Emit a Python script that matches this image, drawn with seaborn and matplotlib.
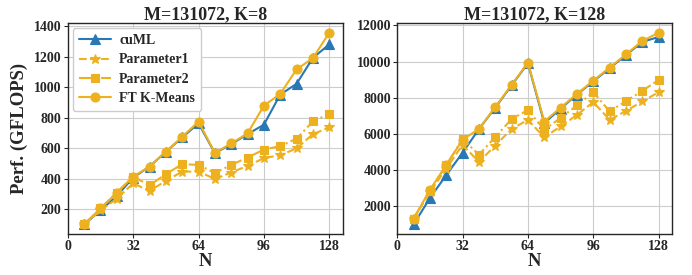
import numpy as np
import pandas as pd
import matplotlib
matplotlib.use('Agg')
import matplotlib.pyplot as plt
import seaborn as sns

# --- data ---
n_vals = [8, 16, 24, 32, 40, 48, 56, 64, 72, 80, 88, 96, 104, 112, 120, 128]

# M=131072, K=8
k8_cuml = [99, 191, 286, 407, 479, 576, 670, 763, 567, 626, 692, 754, 952, 1022, 1193, 1281]
k8_param1 = [99, 191, 268, 369, 319, 385, 446, 446, 398, 440, 484, 534, 554, 598, 692, 736]
k8_param2 = [99, 204, 308, 413, 356, 429, 495, 490, 437, 490, 538, 591, 613, 662, 776, 824]
k8_ftkm = [99, 204, 308, 413, 479, 576, 675, 774, 569, 631, 697, 879, 956, 1117, 1191, 1358]

# M=131072, K=128
k128_cuml = [1000, 2455, 3727, 4963, 6272, 7454, 8690, 9909, 6600, 7400, 8181, 8909, 9636, 10363, 11090, 11363]
k128_param1 = [1309, 2781, 4090, 5400, 4454, 5363, 6272, 6781, 5818, 6418, 7054, 7763, 6781, 7272, 7800, 8309]
k128_param2 = [1309, 2872, 4272, 5727, 4854, 5836, 6818, 7327, 6236, 6890, 7581, 8309, 7254, 7818, 8381, 9000]
k128_ftkm = [1309, 2909, 4272, 5690, 6272, 7490, 8709, 9945, 6690, 7454, 8218, 8945, 9672, 10400, 11145, 11600]

titles = ['M=131072, K=8', 'M=131072, K=128']
series_names = ['cuML', 'Parameter1', 'Parameter2', 'FT K-Means']

panels = [
    [k8_cuml, k8_param1, k8_param2, k8_ftkm],
    [k128_cuml, k128_param1, k128_param2, k128_ftkm],
]

blue = '#2878b5'
gold = '#EDB120'
styles = {
    'cuML': dict(color=blue, marker='^', linestyle='-', markersize=6.5),
    'Parameter1': dict(color=gold, marker='*', linestyle='--', markersize=7.5),
    'Parameter2': dict(color=gold, marker='s', linestyle='-.', markersize=6),
    'FT K-Means': dict(color=gold, marker='o', linestyle='-', markersize=6.5),
}

sns.set_style('whitegrid', {'axes.edgecolor': '0.15', 'grid.color': '0.8',
                            'xtick.bottom': True, 'ytick.left': True})
plt.rcParams['font.family'] = ['Liberation Serif', 'DejaVu Serif']
plt.rcParams['font.weight'] = 'bold'
plt.rcParams['axes.titleweight'] = 'bold'
plt.rcParams['axes.labelweight'] = 'bold'

fig = plt.figure(figsize=(6.92, 2.75), dpi=100)
axes = [fig.add_axes([0.098, 0.149, 0.397, 0.767]),
        fig.add_axes([0.574, 0.149, 0.397, 0.767])]

for i, ax in enumerate(axes):
    for name, vals in zip(series_names, panels[i]):
        df = pd.DataFrame({'N': n_vals, 'perf': vals})
        sns.lineplot(data=df, x='N', y='perf', ax=ax, label=name,
                     linewidth=1.5, markeredgewidth=0.8,
                     markeredgecolor=styles[name]['color'], **styles[name])
    ax.set_title(titles[i], fontsize=13, fontweight='bold', pad=3)
    ax.set_xlabel('N', fontsize=13.5, fontweight='bold', labelpad=0)
    ax.set_xlim(0, 134.5)
    ax.set_xticks([0, 32, 64, 96, 128])
    ax.tick_params(axis='both', labelsize=10, length=3, width=0.8, pad=1.5)
    for lbl in ax.get_xticklabels() + ax.get_yticklabels():
        lbl.set_fontweight('bold')
    for sp in ax.spines.values():
        sp.set_linewidth(1.0)

axes[0].set_ylabel('Perf. (GFLOPS)', fontsize=13.5, fontweight='bold', labelpad=4)
axes[1].set_ylabel('')
axes[0].set_yticks([200, 400, 600, 800, 1000, 1200, 1400])
axes[1].set_yticks([2000, 4000, 6000, 8000, 10000, 12000])

axes[0].legend(loc='upper left', frameon=True, framealpha=1.0,
               edgecolor='0.8', prop={'weight': 'bold', 'size': 10},
               handlelength=2.3, handletextpad=0.6, borderpad=0.45,
               borderaxespad=0.35, labelspacing=0.45)
axes[1].get_legend().remove()

fig.savefig('out.png', dpi=100)
